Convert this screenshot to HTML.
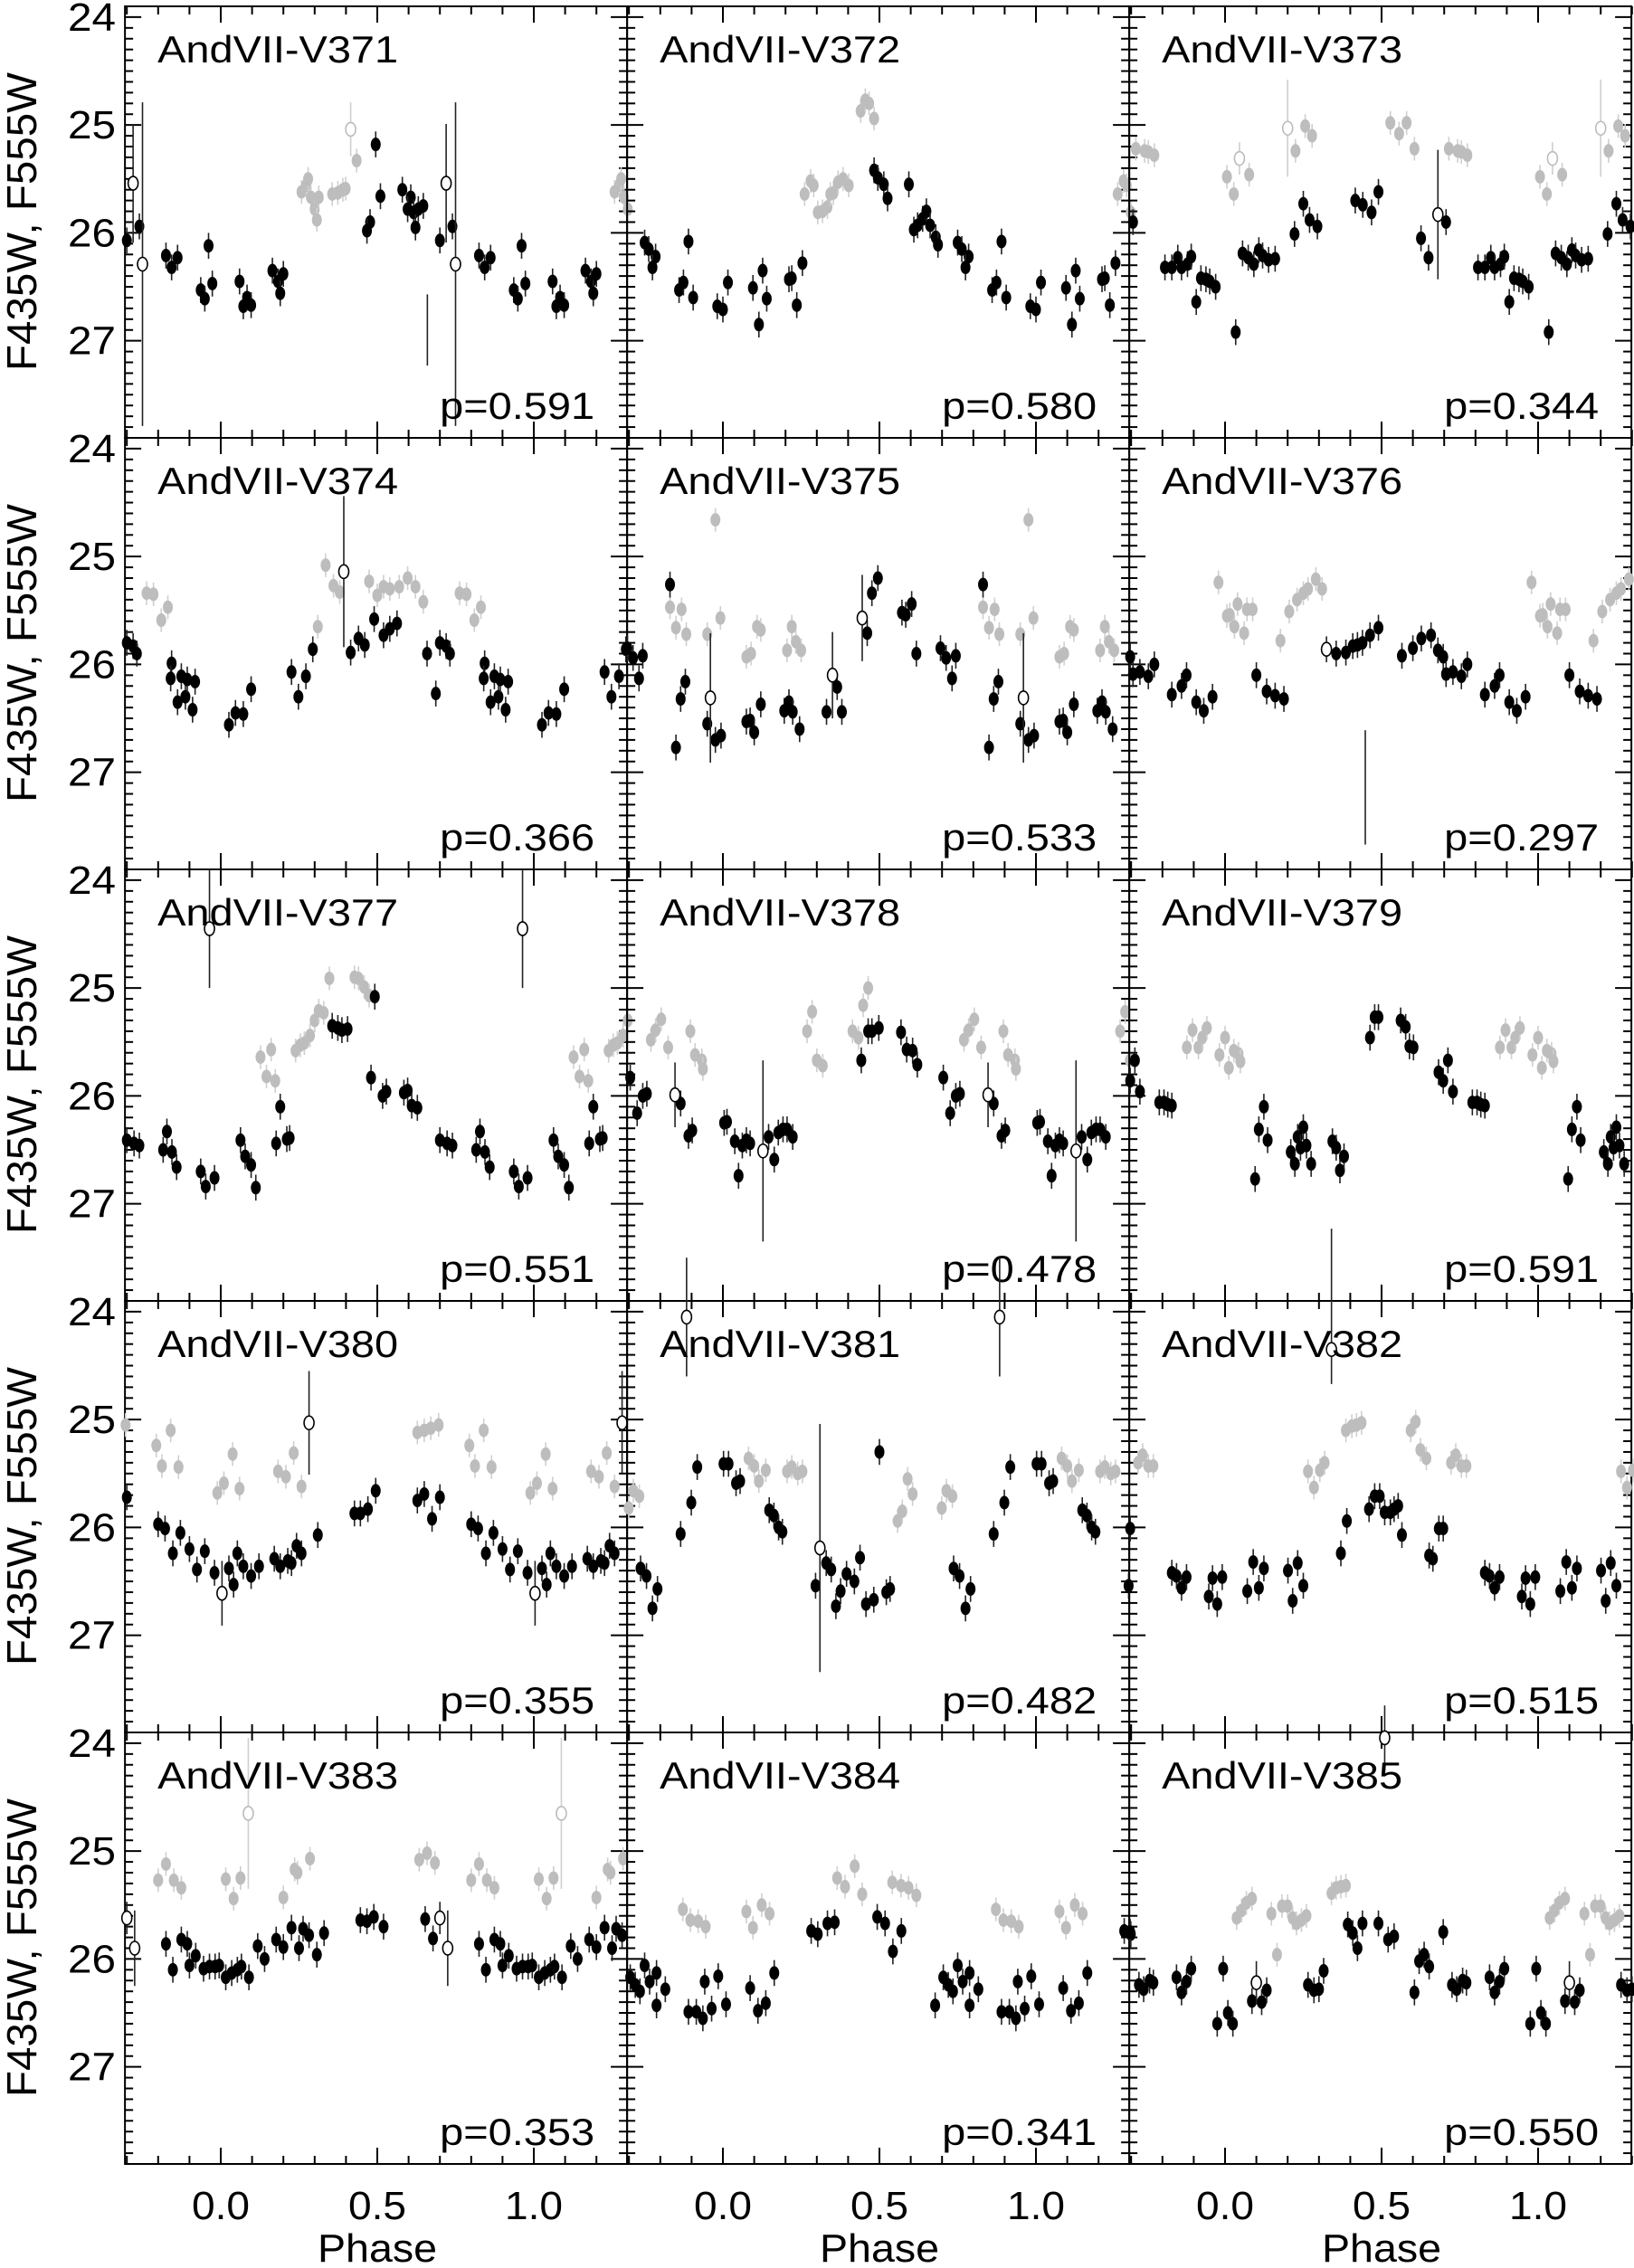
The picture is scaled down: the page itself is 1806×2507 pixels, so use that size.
<!DOCTYPE html>
<html><head><meta charset="utf-8"><style>
html,body{margin:0;padding:0;background:#fff}
svg{display:block}
text{font-family:"Liberation Sans",Arial,sans-serif;fill:#000}
</style></head><body>
<svg id="fig" width="1806" height="2507" viewBox="0 0 1806 2507" xmlns="http://www.w3.org/2000/svg"></svg>
<script>
const names=["AndVII-V371","AndVII-V372","AndVII-V373","AndVII-V374","AndVII-V375","AndVII-V376","AndVII-V377","AndVII-V378","AndVII-V379","AndVII-V380","AndVII-V381","AndVII-V382","AndVII-V383","AndVII-V384","AndVII-V385"];
const periods=["0.591","0.580","0.344","0.366","0.533","0.297","0.551","0.478","0.591","0.355","0.482","0.515","0.353","0.341","0.550"];
const xTickLabels=["0.0","0.5","1.0"];
const xTickValues=[0,0.5,1.0];
const yTickLabels=["24","25","26","27"];
const yTickValues=[24,25,26,27];
const blackErr=0.12, grayErr=0.11;
const b371=[[-0.30,26.07],[-0.26,25.94],[-0.175,26.21],[-0.157,26.32],[-0.138,26.23],[-0.039,26.12],[-0.064,26.53],[-0.051,26.61],[-0.027,26.47],[0.06,26.45],[0.072,26.68],[0.084,26.6],[0.097,26.67],[0.165,26.35],[0.183,26.45],[0.19,26.56],[0.2,26.38],[0.477,25.9],[0.467,25.98],[0.495,25.18],[0.51,25.66],[0.58,25.6],[0.607,25.67],[0.597,25.78],[0.616,25.81],[0.631,25.78],[0.622,25.95],[0.647,25.75]];
const g371=[[0.258,25.62],[0.273,25.56],[0.279,25.5],[0.288,25.67],[0.3,25.78],[0.307,25.88],[0.313,25.67],[0.356,25.64],[0.374,25.63],[0.39,25.6],[0.399,25.59],[0.434,25.33]];
const o371=[[-0.28,25.54,0.55,"k"],[-0.25,26.29,1.5,"k"],[0.415,25.04,0.25,"g"]];
const b372=[[-0.25,26.09],[-0.237,26.15],[-0.215,26.22],[-0.225,26.32],[-0.11,26.08],[-0.14,26.53],[-0.126,26.46],[-0.095,26.6],[-0.018,26.68],[0.0,26.71],[0.016,26.46],[0.096,26.51],[0.115,26.85],[0.127,26.35],[0.14,26.61],[0.211,26.43],[0.22,26.42],[0.236,26.67],[0.254,26.28],[0.483,25.42],[0.495,25.49],[0.514,25.55],[0.526,25.68],[0.594,25.55],[0.61,25.97],[0.622,25.93],[0.638,25.87],[0.65,25.8],[0.662,25.93],[0.68,26.04],[0.687,26.11]];
const g372=[[0.261,25.64],[0.28,25.52],[0.29,25.56],[0.303,25.81],[0.318,25.8],[0.334,25.76],[0.343,25.64],[0.353,25.63],[0.368,25.53],[0.384,25.5],[0.402,25.56],[0.44,24.87],[0.455,24.77],[0.467,24.8],[0.483,24.94]];
const o372=[];
const b373=[[-0.294,25.9],[-0.192,26.32],[-0.17,26.32],[-0.151,26.23],[-0.139,26.32],[-0.12,26.29],[-0.108,26.22],[-0.092,26.64],[-0.077,26.42],[-0.061,26.43],[-0.049,26.45],[-0.03,26.5],[0.034,26.92],[0.056,26.19],[0.074,26.23],[0.092,26.29],[0.108,26.16],[0.12,26.21],[0.139,26.25],[0.16,26.24],[0.222,26.01],[0.25,25.73],[0.27,25.88],[0.295,25.94],[0.416,25.7],[0.44,25.74],[0.468,25.81],[0.49,25.62],[0.626,26.05],[0.65,26.23]];
const g373=[[-0.285,25.22],[-0.257,25.24],[-0.245,25.25],[-0.226,25.28],[0.006,25.48],[0.028,25.64],[0.077,25.46],[0.225,25.24],[0.256,25.01],[0.278,25.1],[0.528,24.98],[0.556,25.08],[0.58,24.98],[0.605,25.22]];
const o373=[[0.68,25.83,0.6,"k"],[0.046,25.31,0.15,"g"],[0.2,25.03,0.45,"g"]];
const b374=[[-0.30,25.8],[-0.28,25.83],[-0.268,25.9],[-0.157,25.99],[-0.16,26.13],[-0.138,26.35],[-0.126,26.11],[-0.113,26.3],[-0.107,26.14],[-0.09,26.42],[-0.082,26.16],[0.026,26.56],[0.047,26.45],[0.072,26.46],[0.097,26.23],[0.226,26.07],[0.248,26.3],[0.272,26.11],[0.294,25.86],[0.415,25.89],[0.44,25.76],[0.46,25.82],[0.49,25.58],[0.52,25.73],[0.54,25.67],[0.563,25.62],[0.659,25.9],[0.687,26.27]];
const g374=[[-0.237,25.34],[-0.215,25.35],[-0.19,25.59],[-0.169,25.47],[0.31,25.65],[0.335,25.08],[0.36,25.27],[0.38,25.33],[0.474,25.23],[0.5,25.36],[0.52,25.28],[0.54,25.3],[0.57,25.28],[0.597,25.2],[0.622,25.28],[0.647,25.42]];
const o374=[[0.393,25.14,0.7,"k"]];
const b375=[[-0.305,25.85],[-0.287,25.94],[-0.268,26.13],[-0.256,25.92],[-0.169,25.26],[-0.15,26.77],[-0.135,26.32],[-0.12,26.16],[-0.05,26.55],[-0.024,26.7],[-0.006,26.66],[0.075,26.53],[0.087,26.52],[0.1,26.63],[0.121,26.37],[0.196,26.43],[0.211,26.35],[0.223,26.44],[0.245,26.6],[0.331,26.44],[0.365,26.21],[0.38,26.44],[0.461,25.71],[0.476,25.34],[0.495,25.2],[0.572,25.52],[0.584,25.54],[0.603,25.44],[0.618,25.9]];
const g375=[[-0.169,25.47],[-0.15,25.66],[-0.132,25.49],[-0.117,25.72],[-0.05,25.72],[-0.024,24.66],[-0.008,25.57],[0.075,25.93],[0.09,25.9],[0.109,25.65],[0.121,25.68],[0.205,25.87],[0.22,25.65],[0.233,25.79],[0.25,25.87]];
const o375=[[-0.04,26.31,0.6,"k"],[0.35,26.1,0.4,"k"],[0.445,25.57,0.4,"k"]];
const b376=[[-0.303,25.93],[-0.294,26.09],[-0.272,26.07],[-0.245,26.11],[-0.226,26.0],[-0.17,26.28],[-0.139,26.2],[-0.123,26.1],[-0.092,26.35],[-0.068,26.43],[-0.04,26.3],[0.1,26.1],[0.133,26.25],[0.16,26.29],[0.188,26.32],[0.355,25.9],[0.386,25.89],[0.408,25.83],[0.423,25.82],[0.439,25.8],[0.463,25.73],[0.49,25.66],[0.565,25.92],[0.6,25.85],[0.627,25.76],[0.658,25.73],[0.68,25.87]];
const g376=[[-0.021,25.24],[0.006,25.55],[0.015,25.54],[0.03,25.65],[0.04,25.44],[0.061,25.71],[0.07,25.49],[0.088,25.49],[0.177,25.78],[0.205,25.51],[0.23,25.4],[0.25,25.34],[0.265,25.3],[0.29,25.21],[0.31,25.3]];
const o376=[[0.324,25.86,0.12,"k"]];
const b377=[[-0.30,26.41],[-0.277,26.44],[-0.26,26.46],[-0.184,26.5],[-0.172,26.33],[-0.156,26.52],[-0.141,26.66],[-0.064,26.7],[-0.048,26.84],[-0.02,26.76],[0.063,26.41],[0.078,26.56],[0.097,26.64],[0.112,26.85],[0.177,26.44],[0.19,26.1],[0.211,26.4],[0.22,26.39],[0.356,25.35],[0.374,25.37],[0.387,25.39],[0.405,25.38],[0.492,25.08],[0.48,25.83],[0.517,26.0],[0.529,25.96],[0.585,25.97],[0.597,25.95],[0.61,26.09],[0.628,26.11]];
const g377=[[0.127,25.64],[0.146,25.82],[0.161,25.57],[0.174,25.86],[0.239,25.58],[0.254,25.53],[0.267,25.51],[0.285,25.44],[0.3,25.3],[0.313,25.21],[0.329,25.23],[0.347,24.91],[0.427,24.9],[0.44,24.91],[0.458,24.99],[0.474,25.07]];
const o377=[[-0.036,24.45,0.55,"k"]];
const b378=[[-0.296,25.83],[-0.274,26.16],[-0.256,26.0],[-0.243,25.98],[-0.135,26.07],[-0.11,26.37],[-0.098,26.32],[0.004,26.25],[0.013,26.24],[0.038,26.42],[0.05,26.74],[0.062,26.46],[0.075,26.41],[0.087,26.44],[0.146,26.38],[0.164,26.59],[0.177,26.34],[0.192,26.31],[0.205,26.31],[0.223,26.38],[0.442,25.67],[0.464,25.4],[0.476,25.4],[0.498,25.37],[0.569,25.41],[0.587,25.57],[0.606,25.58],[0.621,25.71]];
const g378=[[-0.23,25.48],[-0.215,25.39],[-0.197,25.29],[-0.175,25.55],[-0.104,25.4],[-0.089,25.62],[-0.067,25.67],[-0.064,25.75],[0.269,25.4],[0.285,25.22],[0.3,25.67],[0.319,25.72],[0.414,25.4],[0.433,25.46],[0.448,25.16],[0.464,25.0]];
const o378=[[-0.153,25.99,0.3,"k"],[0.128,26.51,0.84,"k"]];
const b379=[[-0.303,25.86],[-0.288,25.67],[-0.272,25.96],[-0.21,26.06],[-0.195,26.06],[-0.183,26.08],[-0.17,26.09],[0.096,26.77],[0.108,26.31],[0.124,26.1],[0.136,26.41],[0.21,26.52],[0.223,26.63],[0.232,26.38],[0.241,26.48],[0.25,26.29],[0.26,26.46],[0.275,26.63],[0.343,26.42],[0.355,26.48],[0.367,26.69],[0.38,26.56],[0.463,25.46],[0.478,25.27],[0.49,25.27],[0.561,25.3],[0.577,25.36],[0.589,25.54],[0.602,25.55],[0.682,25.78]];
const g379=[[-0.122,25.55],[-0.104,25.39],[-0.085,25.55],[-0.073,25.46],[-0.058,25.37],[-0.018,25.62],[0.0,25.46],[0.012,25.74],[0.028,25.58],[0.043,25.61],[0.049,25.68]];
const o379=[];
const b380=[[-0.30,25.72],[-0.2,25.97],[-0.178,26.01],[-0.153,26.24],[-0.129,26.05],[-0.1,26.2],[-0.076,26.39],[-0.051,26.22],[-0.02,26.42],[0.026,26.38],[0.041,26.53],[0.053,26.24],[0.072,26.36],[0.097,26.45],[0.122,26.36],[0.171,26.29],[0.19,26.36],[0.214,26.31],[0.226,26.33],[0.242,26.17],[0.258,26.24],[0.31,26.07],[0.427,25.87],[0.446,25.87],[0.47,25.83],[0.495,25.66],[0.628,25.75],[0.65,25.69],[0.675,25.92]];
const g380=[[-0.206,25.24],[-0.188,25.43],[-0.16,25.1],[-0.135,25.44],[-0.011,25.68],[0.01,25.59],[0.038,25.32],[0.06,25.64],[0.183,25.48],[0.208,25.53],[0.233,25.31],[0.258,25.62],[0.628,25.12],[0.65,25.1],[0.671,25.08],[0.696,25.05]];
const o380=[[0.004,26.61,0.3,"k"],[0.282,25.03,0.48,"k"]];
const b381=[[-0.263,26.38],[-0.244,26.45],[-0.225,26.75],[-0.209,26.57],[-0.135,26.06],[-0.101,25.77],[-0.082,25.44],[0.002,25.41],[0.018,25.41],[0.042,25.59],[0.055,25.57],[0.148,25.84],[0.163,25.89],[0.178,26.0],[0.19,26.04],[0.296,26.54],[0.33,26.33],[0.346,26.39],[0.361,26.73],[0.376,26.59],[0.395,26.43],[0.42,26.5],[0.438,26.28],[0.457,26.71],[0.482,26.67],[0.5,25.3],[0.522,26.6],[0.534,26.57]];
const g381=[[0.082,25.36],[0.1,25.43],[0.115,25.57],[0.137,25.47],[0.205,25.48],[0.22,25.44],[0.239,25.5],[0.254,25.48],[0.558,25.94],[0.573,25.85],[0.59,25.55],[0.606,25.69],[0.699,25.82],[0.714,25.66],[0.733,25.71]];
const o381=[[-0.116,24.05,0.55,"k"],[0.31,26.19,1.15,"k"]];
const b382=[[-0.303,26.01],[-0.17,26.42],[-0.155,26.45],[-0.139,26.56],[-0.123,26.46],[-0.052,26.64],[-0.04,26.47],[-0.025,26.71],[-0.009,26.46],[0.071,26.59],[0.09,26.32],[0.108,26.56],[0.124,26.38],[0.201,26.4],[0.216,26.68],[0.232,26.33],[0.25,26.54],[0.37,26.24],[0.389,25.94],[0.46,25.83],[0.478,25.71],[0.494,25.71],[0.51,25.86],[0.528,25.86],[0.54,25.83],[0.553,25.8],[0.565,26.07],[0.652,26.26],[0.664,26.29],[0.683,26.01]];
const g382=[[-0.278,25.4],[-0.263,25.33],[-0.245,25.43],[-0.229,25.43],[0.265,25.48],[0.284,25.63],[0.303,25.47],[0.318,25.4],[0.386,25.1],[0.405,25.06],[0.42,25.05],[0.436,25.03],[0.593,25.1],[0.609,25.02],[0.624,25.28],[0.643,25.36]];
const o382=[[0.34,24.35,1.12,"k",0.32]];
const b383=[[-0.175,25.86],[-0.153,26.1],[-0.126,25.82],[-0.107,25.86],[-0.1,26.06],[-0.08,25.97],[-0.055,26.09],[-0.036,26.07],[-0.018,26.07],[-0.005,26.06],[0.016,26.17],[0.035,26.13],[0.053,26.1],[0.066,26.07],[0.09,26.17],[0.118,25.88],[0.14,26.0],[0.177,25.82],[0.2,25.89],[0.226,25.71],[0.25,25.9],[0.263,25.72],[0.282,25.78],[0.307,25.96],[0.33,25.76],[0.446,25.64],[0.467,25.65],[0.489,25.61],[0.52,25.7],[0.653,25.63],[0.678,25.81]];
const g383=[[-0.2,25.27],[-0.175,25.12],[-0.15,25.27],[-0.126,25.34],[0.016,25.26],[0.041,25.44],[0.063,25.25],[0.2,25.43],[0.236,25.17],[0.245,25.2],[0.285,25.07],[0.634,25.08],[0.659,25.02],[0.684,25.11]];
const o383=[[0.70,25.62,0.15,"k"],[0.725,25.9,0.35,"k"],[0.088,24.65,0.7,"g"]];
const b384=[[-0.296,26.17],[-0.28,26.24],[-0.265,26.3],[-0.25,26.06],[-0.234,26.21],[-0.212,26.13],[-0.212,26.43],[-0.184,26.28],[-0.11,26.49],[-0.085,26.49],[-0.064,26.55],[-0.058,26.21],[-0.036,26.46],[-0.015,26.16],[0.01,26.42],[0.087,26.27],[0.112,26.48],[0.137,26.41],[0.164,26.13],[0.282,25.74],[0.303,25.77],[0.334,25.67],[0.357,25.66],[0.493,25.61],[0.518,25.67],[0.543,25.93],[0.57,25.74],[0.678,26.43]];
const g384=[[-0.128,25.54],[-0.104,25.64],[-0.079,25.65],[-0.055,25.7],[0.075,25.56],[0.096,25.71],[0.124,25.5],[0.149,25.58],[0.365,25.25],[0.39,25.33],[0.421,25.14],[0.445,25.4],[0.541,25.29],[0.569,25.32],[0.593,25.34],[0.618,25.41]];
const o384=[];
const b385=[[-0.303,25.75],[-0.275,26.24],[-0.26,26.28],[-0.241,26.2],[-0.229,26.22],[-0.155,26.17],[-0.139,26.31],[-0.123,26.21],[-0.108,26.09],[-0.025,26.6],[-0.006,26.09],[0.009,26.5],[0.025,26.6],[0.086,26.39],[0.117,26.4],[0.133,26.29],[0.265,26.24],[0.284,26.29],[0.3,26.28],[0.315,26.11],[0.392,25.68],[0.408,25.76],[0.423,25.9],[0.439,25.67],[0.49,25.67],[0.521,25.82],[0.54,25.79],[0.605,26.31],[0.62,26.02],[0.636,25.96],[0.652,26.07]];
const g385=[[0.037,25.62],[0.053,25.55],[0.068,25.48],[0.086,25.44],[0.148,25.58],[0.166,25.96],[0.182,25.51],[0.2,25.51],[0.216,25.62],[0.228,25.67],[0.244,25.64],[0.26,25.6],[0.34,25.39],[0.355,25.34],[0.37,25.33],[0.386,25.32]];
const o385=[[0.1,26.22,0.2,"k"],[0.51,23.95,0.3,"k"]];
// error bars whose points fall outside the plotted range: [panelIndex, phase, magTop, magBottom]
const barOnly=[[0,0.66,26.57,27.23],[5,0.448,26.61,27.67]];
const blackSets=[b371,b372,b373,b374,b375,b376,b377,b378,b379,b380,b381,b382,b383,b384,b385];
const graySets=[g371,g372,g373,g374,g375,g376,g377,g378,g379,g380,g381,g382,g383,g384,g385];
const openSets=[o371,o372,o373,o374,o375,o376,o377,o378,o379,o380,o381,o382,o383,o384,o385];

const NS="http://www.w3.org/2000/svg";
const svg=document.getElementById("fig");
const COLX0=244, COLW=555, PHU=346, ROWT=7, ROWH=477, MAGU=119.25, MAGTOP=23.9;
const PMIN=-0.306, PMAX=1.298;
function xs(c,p){return COLX0+c*COLW+p*PHU;}
function ys(r,m){return ROWT+r*ROWH+(m-MAGTOP)*MAGU;}
function mk(tag,attrs,parent){const e=document.createElementNS(NS,tag);for(const k in attrs)e.setAttribute(k,attrs[k]);(parent||svg).appendChild(e);return e;}

for(let i=0;i<15;i++){
  const r=Math.floor(i/3), c=i%3;
  const left=xs(c,PMIN), right=xs(c,PMAX), top=ROWT+r*ROWH, bot=top+ROWH;
  const g=mk("g",{});
  
  
  for(let k=-3;k<=13;k++){
    const p=k/10, x=xs(c,p), major=(k%5===0), L=major?18:9;
    mk("line",{x1:x,y1:bot,x2:x,y2:bot-L,stroke:"#000","stroke-width":2},g);
    mk("line",{x1:x,y1:top,x2:x,y2:top+L,stroke:"#000","stroke-width":2},g);
  }
  for(let k=0;k<=40;k++){
    const m=MAGTOP+k/10, y=ys(r,m);
    if(y<top-0.5||y>bot+0.5)continue;
    const major=Math.abs(m-Math.round(m))<1e-6, L=major?18:9;
    mk("line",{x1:left,y1:y,x2:left+L,y2:y,stroke:"#000","stroke-width":2},g);
    mk("line",{x1:right,y1:y,x2:right-L,y2:y,stroke:"#000","stroke-width":2},g);
  }
  const frame=mk("rect",{x:left,y:top,width:right-left,height:ROWH,fill:"none",stroke:"#000","stroke-width":2},g);
  
  
  barOnly.filter(b=>b[0]===i).forEach(b=>{
    for(let s=-1;s<=1;s++){
      const p=b[1]+s;
      if(p<PMIN||p>PMAX)continue;
      const ln=mk("line",{x1:xs(c,p),y1:ys(r,b[2]),x2:xs(c,p),y2:ys(r,b[3]),stroke:"#222","stroke-width":1.6},g);
      
      
    }
  });
  function draw(set,col,err,open){
    set.forEach(pt=>{
      const ph=pt[0], m=pt[1], e=open?pt[2]:err, eLo=(open&&pt.length>4)?pt[4]:e, colr=open?(pt[3]==="g"?"#bbbbbb":"#000"):col;
      for(let s=-1;s<=1;s++){
        const p=ph+s;
        if(p<PMIN-0.005||p>PMAX+0.005)continue;
        const x=xs(c,p), y=ys(r,m);
        const bar=mk("line",{x1:x,y1:ys(r,m-e),x2:x,y2:ys(r,m+eLo),stroke:colr==="#000"?"#222":"#cfcfcf","stroke-width":1.6},g);
        
        
        const dot=mk("ellipse",{cx:x,cy:y,rx:5.5,ry:7.5,fill:open?"#fff":colr,stroke:colr,"stroke-width":open?1.6:0},g);
        
        
      }
    });
  }
  draw(graySets[i],"#bdbdbd",grayErr,false);
  draw(blackSets[i],"#000",blackErr,false);
  draw(openSets[i],null,0,true);
  const t=mk("text",{x:left+36,y:top+62,"font-size":42,textLength:266,lengthAdjust:"spacingAndGlyphs"},g);
  t.textContent=names[i];
  
  
  const pt=mk("text",{x:left+348,y:top+456,"font-size":42,textLength:171,lengthAdjust:"spacingAndGlyphs"},g);
  pt.textContent="p="+periods[i];
  
  
}
for(let r=0;r<5;r++){
  yTickLabels.forEach((lab,j)=>{
    const t=mk("text",{x:128,y:ys(r,yTickValues[j])+15,"font-size":44,"text-anchor":"end",textLength:53,lengthAdjust:"spacingAndGlyphs"});
    t.textContent=lab;
    
    
  });
  const cy=ROWT+r*ROWH+238;
  const yt=mk("text",{x:0,y:0,"font-size":46,"text-anchor":"middle",textLength:330,lengthAdjust:"spacingAndGlyphs",transform:"translate(40,"+cy+") rotate(-90)"});
  yt.textContent="F435W, F555W";
  
  
}
for(let c=0;c<3;c++){
  xTickLabels.forEach((lab,j)=>{
    const t=mk("text",{x:xs(c,xTickValues[j]),y:2453,"font-size":44,"text-anchor":"middle",textLength:64,lengthAdjust:"spacingAndGlyphs"});
    t.textContent=lab;
    
    
  });
  const xt=mk("text",{x:xs(c,0.5),y:2500,"font-size":44,"text-anchor":"middle",textLength:132,lengthAdjust:"spacingAndGlyphs"});
  xt.textContent="Phase";
  
  
}
</script>
</body></html>
